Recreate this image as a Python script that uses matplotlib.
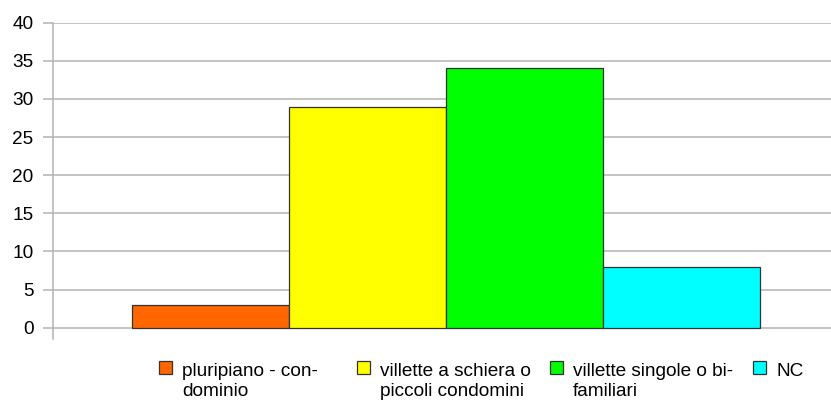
import numpy as np
import matplotlib.pyplot as plt
from matplotlib.patches import Rectangle

# dati
categorie = ['pluripiano - con-\ndominio', 'villette a schiera o\npiccoli condomini',
             'villette singole o bi-\nfamiliari', 'NC']
valori = [3, 29, 34, 8]
colori = ['#ff6600', '#ffff00', '#00ff00', '#00ffff']
yticks = [0, 5, 10, 15, 20, 25, 30, 35, 40]

plt.rcParams['font.family'] = ['Liberation Sans', 'DejaVu Sans']

fig = plt.figure(figsize=(8.31, 4.01), dpi=100)
W, H = 831, 401
ax = fig.add_axes([53 / W, 1 - 339 / H, (W - 53) / W, (339 - 22.7) / H])

x = np.arange(len(valori)) - 1.5
barre = ax.bar(x, valori, width=1.0, color=colori, edgecolor='#333333',
               linewidth=0.9, zorder=3)

ax.set_xlim(-2.503, -2.503 + 778 / 157)
ax.set_ylim(-1.48, 40)
ax.set_yticks(yticks)
ax.set_xticks([])
ax.grid(axis='y', color='#b3b3b3', linewidth=1.1, zorder=0)
ax.tick_params(axis='y', length=7.2, width=1.1, color='#b3b3b3', pad=6.8,
               labelsize=13.7)
for s in ['top', 'right', 'bottom']:
    ax.spines[s].set_visible(False)
ax.spines['left'].set_color('#b3b3b3')
ax.spines['left'].set_linewidth(1.1)

# legenda sotto il grafico, voci allineate in alto come nell'originale
leg_x = [159, 357, 550, 753]  # posizione (px) dei quadratini
for px, lab, col in zip(leg_x, categorie, colori):
    fig.add_artist(Rectangle((px / W, 1 - 374 / H), 13 / W, 13 / H,
                             transform=fig.transFigure, facecolor=col,
                             edgecolor='#333333', linewidth=0.9))
    for i, riga in enumerate(lab.split('\n')):
        fig.text((px + 23) / W, 1 - (376.5 + 20 * i) / H, riga,
                 fontsize=13.7, va='baseline', ha='left')

plt.savefig('out.png', dpi=100)
